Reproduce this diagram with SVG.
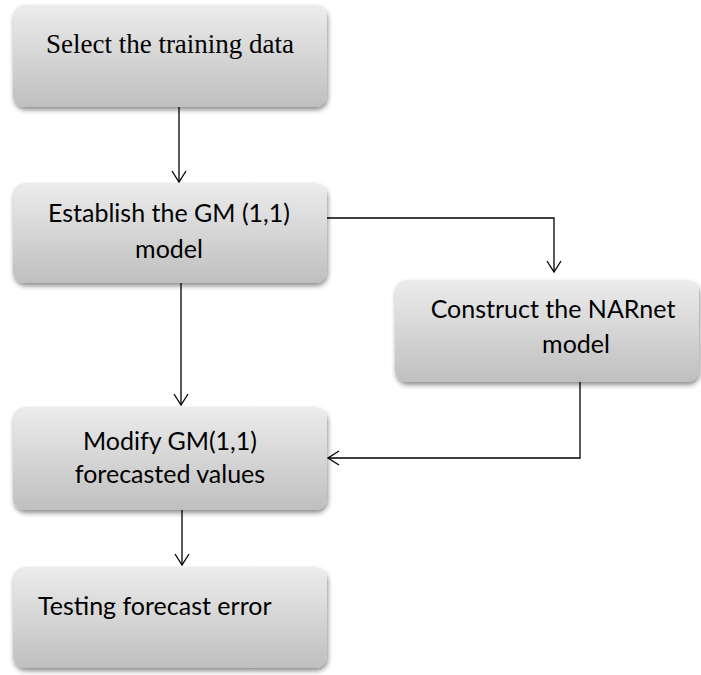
<svg xmlns="http://www.w3.org/2000/svg" width="701" height="675" viewBox="0 0 701 675">
<defs>
<linearGradient id="g" x1="0" y1="0" x2="0" y2="1">
<stop offset="0" stop-color="#ececec"/>
<stop offset="1" stop-color="#bfbfbf"/>
</linearGradient>
<filter id="sh" x="-10%" y="-10%" width="125%" height="135%">
<feGaussianBlur in="SourceAlpha" stdDeviation="2.5"/>
<feOffset dx="1" dy="3" result="b"/>
<feComponentTransfer><feFuncA type="linear" slope="0.45"/></feComponentTransfer>
<feMerge><feMergeNode/><feMergeNode in="SourceGraphic"/></feMerge>
</filter>
<marker id="arr" markerWidth="14" markerHeight="16" refX="12" refY="8" orient="auto" markerUnits="userSpaceOnUse">
<path d="M1,1 L12,8 L1,15" fill="none" stroke="#000" stroke-width="1.3"/>
</marker>
</defs>
<style>
.box{fill:url(#g);filter:url(#sh);}
.t{font-family:Lato,"Open Sans","Liberation Sans",sans-serif;font-size:25px;fill:#000;text-anchor:middle;}
.s{font-family:"Liberation Serif","Times New Roman",serif;font-size:27px;fill:#000;text-anchor:middle;}
.c{fill:none;stroke:#000;stroke-width:1.3;}
</style>
<g id="n1">
<rect class="box" x="13" y="5" width="314" height="102" rx="12"/>
<text class="s" x="170" y="53">Select the training data</text>
</g>
<g id="n2">
<rect class="box" x="13" y="183" width="314" height="100" rx="12"/>
<text class="t" x="169" y="222">Establish the GM (1,1)</text>
<text class="t" x="169" y="258">model</text>
</g>
<g id="n3">
<rect class="box" x="395" y="280" width="304" height="102" rx="12"/>
<text class="t" x="553" y="318">Construct the NARnet</text>
<text class="t" x="576" y="353">model</text>
</g>
<g id="n4">
<rect class="box" x="13" y="407" width="314" height="103" rx="12"/>
<text class="t" x="170" y="450">Modify GM(1,1)</text>
<text class="t" x="170" y="483">forecasted values</text>
</g>
<g id="n5">
<rect class="box" x="13" y="567" width="314" height="101" rx="12"/>
<text class="t" x="38" y="615" style="text-anchor:start">Testing forecast error</text>
</g>
<g id="connectors">
<path class="c" d="M179,107 L179,182" marker-end="url(#arr)"/>
<path class="c" d="M327,218 L554,218 L554,272" marker-end="url(#arr)"/>
<path class="c" d="M181,283 L181,405" marker-end="url(#arr)"/>
<path class="c" d="M580,382 L580,458 L328,458" marker-end="url(#arr)"/>
<path class="c" d="M182,510 L182,565" marker-end="url(#arr)"/>
</g>
</svg>
